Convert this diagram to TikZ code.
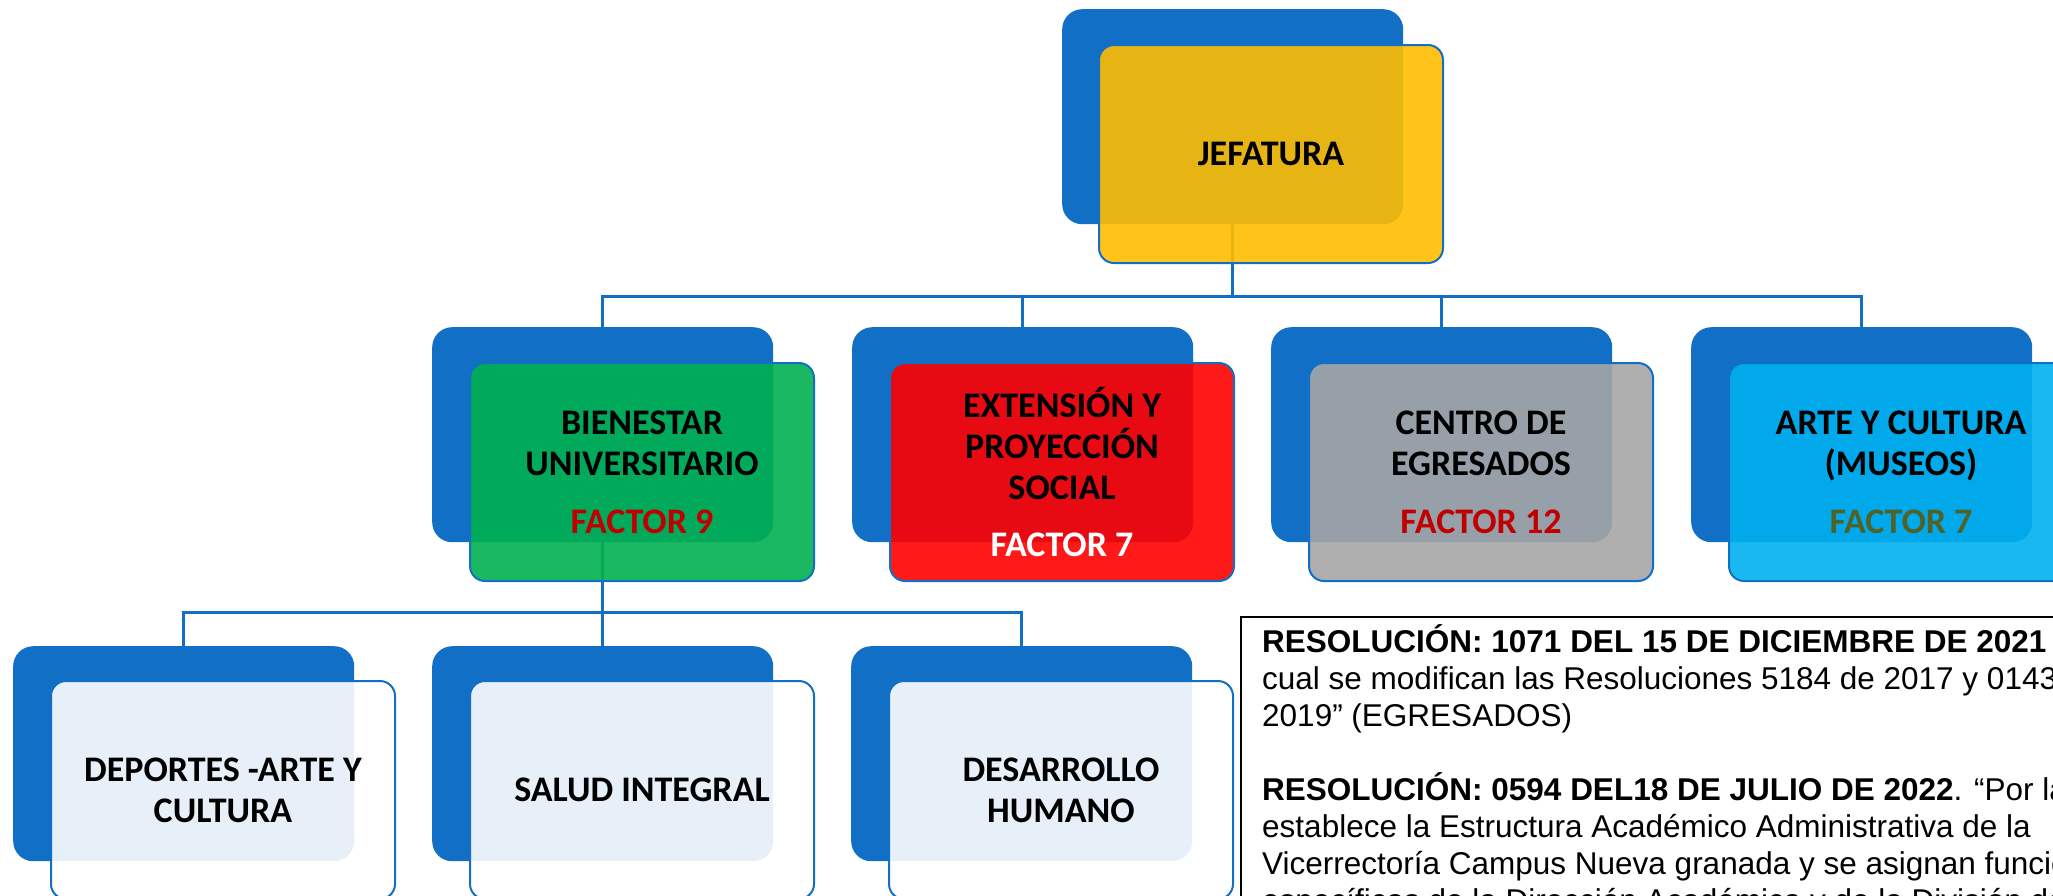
\documentclass[tikz,border=0pt]{standalone}
\usepackage{fontspec}
\setmainfont{Liberation Sans}
\newfontfamily\carl{Carlito}
\definecolor{backblue}{HTML}{1170C6}
\definecolor{fyellow}{HTML}{FFBD00}
\definecolor{fgreen}{HTML}{00B050}
\definecolor{fred}{HTML}{FF0000}
\definecolor{fgray}{HTML}{A6A6A6}
\definecolor{fcyan}{HTML}{00B0F0}
\definecolor{factorred}{HTML}{C00000}
\definecolor{factorolive}{HTML}{4F6228}
\begin{document}
\begin{tikzpicture}[x=1pt,y=-1pt,
  back/.style={rectangle, rounded corners=20pt, fill=backblue, minimum width=341pt, minimum height=215pt, inner sep=0pt, anchor=north west},
  front/.style={rectangle, rounded corners=15pt, draw=backblue, line width=2pt, fill opacity=0.9, text opacity=1, minimum width=344pt, minimum height=218pt, inner sep=0pt, anchor=north west, align=center, font=\carl\bfseries\fontsize{36}{41}\selectfont},
  conn/.style={draw=backblue, line width=2.5pt},
  restext/.style={anchor=base west, inner sep=0pt, font=\fontsize{31.5}{37}\selectfont}]
\useasboundingbox (0,0) rectangle (2053,895);
\clip (0,0) rectangle (2053,895);
% back boxes
\node[back] (jefB) at (1062,9) {};
\node[back] (bieB) at (432,327) {};
\node[back] (extB) at (852,327) {};
\node[back] (egrB) at (1271,327) {};
\node[back] (artB) at (1691,327) {};
\node[back] (depB) at (13,646) {};
\node[back] (salB) at (432,646) {};
\node[back] (desB) at (851,646) {};
% connectors
\path (jefB.south) ++(0,72) coordinate (bus1);
\path (bieB.south) ++(0,70) coordinate (bus2);
\draw[conn] (jefB.south) -- (bus1);
\draw[conn] (bieB.north) |- (bus1) -| (artB.north);
\draw[conn] (bus1) -| (extB.north);
\draw[conn] (bus1) -| (egrB.north);
\draw[conn] (bieB.south) -- (bus2);
\draw[conn] (depB.north) |- (bus2) -| (desB.north);
\draw[conn] (bus2) -| (salB.north);
% front boxes
\node[front, fill=fyellow] (jef) at (1098,44) {JEFATURA};
\node[front, fill=fgreen] (bie) at (469,362) {BIENESTAR\\UNIVERSITARIO\\[17pt]\textcolor{factorred}{FACTOR 9}};
\node[front, fill=fred] (ext) at (889,362) {EXTENSIÓN Y\\PROYECCIÓN\\SOCIAL\\[16pt]\textcolor{white}{FACTOR 7}};
\node[front, fill=fgray] (egr) at (1308,362) {CENTRO DE\\EGRESADOS\\[17pt]\textcolor{factorred}{FACTOR 12}};
\node[front, fill=fcyan] (art) at (1728,362) {ARTE Y CULTURA\\(MUSEOS)\\[17pt]\textcolor{factorolive}{FACTOR 7}};
\node[front, fill=white] (dep) at (50,680) {DEPORTES -ARTE Y\\CULTURA};
\node[front, fill=white] (sal) at (469,680) {SALUD INTEGRAL};
\node[front, fill=white] (des) at (888,680) {DESARROLLO\\HUMANO};
% resolution text box
\node[draw=black, line width=1.5pt, fill=white, anchor=north west, minimum width=840pt, minimum height=300pt, inner sep=0pt] (resbox) at (1240,616) {};
\node[restext] (r1) at (1262,652) {\textbf{RESOLUCIÓN: 1071 DEL 15 DE DICIEMBRE DE 2021}};
\node[restext] (r2) at (1262,689) {cual se modifican las Resoluciones 5184 de 2017 y 0143};
\node[restext] (r3) at (1262,726) {2019” (EGRESADOS)};
\node[restext] (r4) at (1262,800) {\textbf{RESOLUCIÓN: 0594 DEL18 DE JULIO DE 2022}. “Por la};
\node[restext] (r5) at (1262,837) {establece la Estructura Académico Administrativa de la};
\node[restext] (r6) at (1262,874) {Vicerrectoría Campus Nueva granada y se asignan funciones};
\node[restext] (r7) at (1262,911) {específicas de la Dirección Académica y de la División de M};
\end{tikzpicture}
\end{document}
